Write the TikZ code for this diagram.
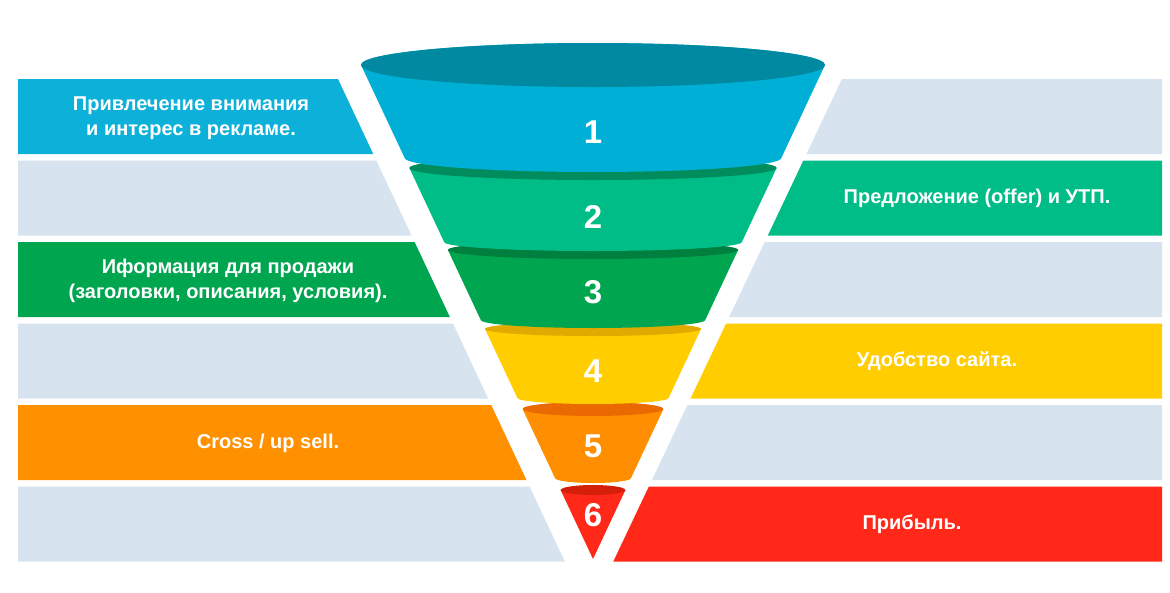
\documentclass[tikz,border=0pt]{standalone}
\usepackage{fontspec}
\setmainfont{Liberation Sans}
\usetikzlibrary{positioning}
\definecolor{fblue}{RGB}{0,175,214}
\definecolor{fbluerim}{RGB}{0,137,160}
\definecolor{fteal}{RGB}{0,188,135}
\definecolor{ftealrim}{RGB}{0,140,92}
\definecolor{fgreen}{RGB}{0,165,80}
\definecolor{fgreenrim}{RGB}{0,128,62}
\definecolor{fyellow}{RGB}{255,205,0}
\definecolor{fyellowrim}{RGB}{224,170,0}
\definecolor{forange}{RGB}{255,143,0}
\definecolor{forangerim}{RGB}{234,105,0}
\definecolor{fred}{RGB}{255,40,25}
\definecolor{fredrim}{RGB}{212,32,10}
\definecolor{bandgray}{RGB}{215,227,239}
\definecolor{bandblue}{RGB}{12,176,216}
\definecolor{bandorange}{RGB}{255,145,0}
\tikzset{
  bandtext/.style={text=white, align=center, inner sep=0pt,
    font=\bfseries\fontsize{20}{25}\selectfont},
  stagenum/.style={text=white, inner sep=0pt,
    font=\bfseries\fontsize{33}{33}\selectfont}
}

\begin{document}
\begin{tikzpicture}[x=1pt, y=-1pt]
  \useasboundingbox (0,0) rectangle (1170,592);
  % bands left and right of the funnel
  \foreach \i/\lc/\rc in {1/bandblue/bandgray, 2/bandgray/fteal, 3/fgreen/bandgray,
      4/bandgray/fyellow, 5/bandorange/bandgray, 6/bandgray/fred} {
    \pgfmathsetmacro{\yt}{79+81.5*(\i-1)}
    \pgfmathsetmacro{\yb}{\yt+75}
    \fill[\lc] (18,\yt) -- ({338+0.47*(\yt-79)},\yt) -- ({338+0.47*(\yb-79)},\yb) -- (18,\yb) -- cycle;
    \fill[\rc] ({842-0.474*(\yt-79)},\yt) -- (1162,\yt) -- (1162,\yb) -- ({842-0.474*(\yb-79)},\yb) -- cycle;
  }
  % funnel, bottom piece first
  \pgfmathsetmacro{\wt}{0.4696*(559-490)}
  \fill[fred] (593-\wt,490) -- (593,559) -- (593+\wt,490) -- cycle;
  \fill[fredrim] (593,490) ellipse [x radius=\wt pt, y radius=5pt];
  \foreach \t/\rt/\b/\rb/\body/\rim in {409/7/478/5/forange/forangerim,
      329/7/398/6/fyellow/fyellowrim, 250/9/320/8/fgreen/fgreenrim,
      168/12/242/9/fteal/ftealrim, 65/22/158/14/fblue/fbluerim} {
    \pgfmathsetmacro{\wt}{0.4696*(559-\t)}
    \pgfmathsetmacro{\wb}{0.4696*(559-\b)}
    \fill[\body] (593-\wt,\t) -- (593-\wb,\b)
      arc[start angle=180, end angle=360, x radius=\wb pt, y radius=\rb pt]
      -- (593+\wt,\t)
      arc[start angle=0, end angle=180, x radius=\wt pt, y radius=\rt pt] -- cycle;
    \fill[\rim] (593,\t) ellipse [x radius=\wt pt, y radius=\rt pt];
  }
  % stage numbers
  \node[stagenum] (n1) at (593,132) {1};
  \node[stagenum] (n2) at (593,217) {2};
  \node[stagenum] (n3) at (593,292) {3};
  \node[stagenum] (n4) at (593,371) {4};
  \node[stagenum] (n5) at (593,446) {5};
  \node[stagenum] (n6) at (593,515) {6};
  % band labels
  \node[bandtext] (attention) at (191,118) {Привлечение внимания\\и интерес в рекламе.};
  \node[bandtext] (offer) at (977,198) {Предложение (offer) и УТП.};
  \node[bandtext] (info) at (228,281) {Иформация для продажи\\(заголовки, описания, условия).};
  \node[bandtext] (site) at (937,361) {Удобство сайта.};
  \node[bandtext] (sell) at (268,443) {Cross / up sell.};
  \node[bandtext] (profit) at (912,524) {Прибыль.};
\end{tikzpicture}
\end{document}
